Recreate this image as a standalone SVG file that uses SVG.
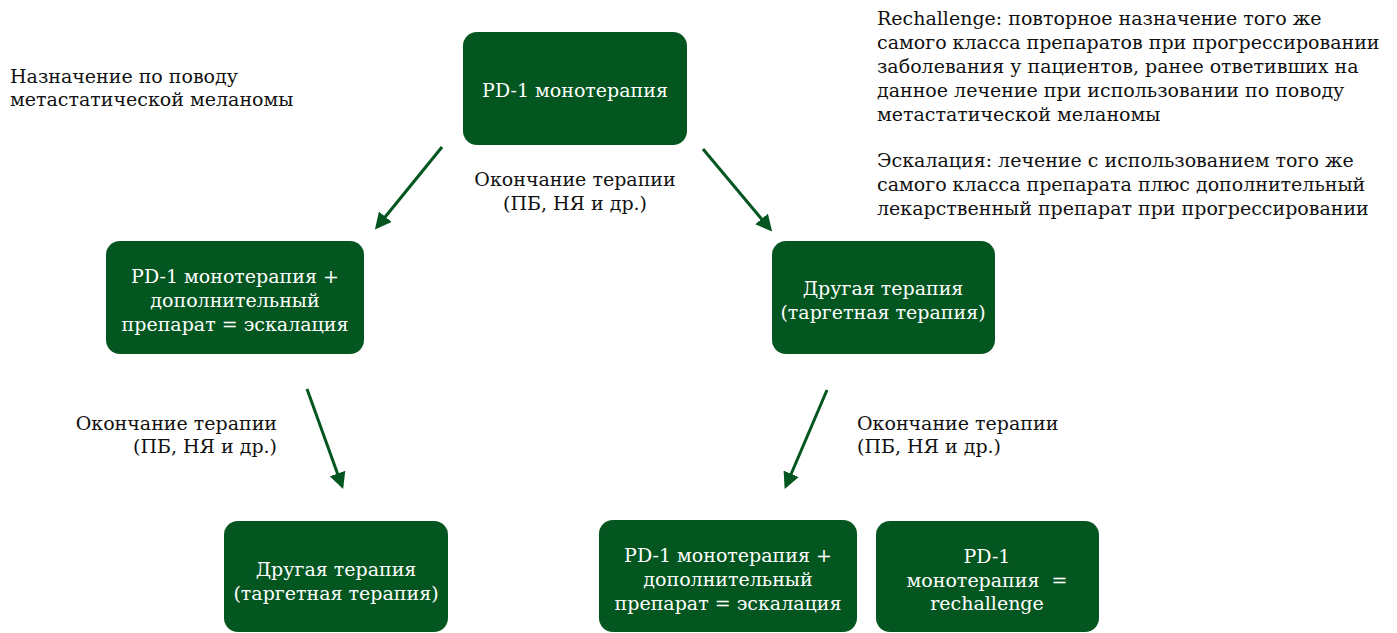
<svg xmlns="http://www.w3.org/2000/svg" width="1397" height="633" viewBox="0 0 1397 633">
<style>
  text { font-family: "DejaVu Serif", serif; font-size: 19px; }
  .box { fill: #03561f; }
  .bt { fill: #ffffff; text-anchor: middle; }
  .t { fill: #111111; }
  .conn { stroke: #03561f; stroke-width: 3; fill: none; marker-end: url(#ah); }
</style>
<defs>
  <marker id="ah" viewBox="0 0 10 10" refX="8" refY="5" markerWidth="5.5" markerHeight="5.5" orient="auto" markerUnits="strokeWidth">
    <path d="M0,0 L10,5 L0,10 z" fill="#03561f"/>
  </marker>
</defs>
<rect width="1397" height="633" fill="#ffffff"/>

<g id="note-left">
  <text class="t" x="10" y="83">Назначение по поводу</text>
  <text class="t" x="10" y="106">метастатической меланомы</text>
</g>

<g id="note-right">
  <text class="t" x="877" y="25">Rechallenge: повторное назначение того же</text>
  <text class="t" x="877" y="49">самого класса препаратов при прогрессировании</text>
  <text class="t" x="877" y="73">заболевания у пациентов, ранее ответивших на</text>
  <text class="t" x="877" y="97">данное лечение при использовании по поводу</text>
  <text class="t" x="877" y="121">метастатической меланомы</text>
  <text class="t" x="877" y="167">Эскалация: лечение с использованием того же</text>
  <text class="t" x="877" y="191">самого класса препарата плюс дополнительный</text>
  <text class="t" x="877" y="215">лекарственный препарат при прогрессировании</text>
</g>

<g id="connectors">
  <line class="conn" x1="442" y1="147" x2="377" y2="227"/>
  <line class="conn" x1="703" y1="149" x2="770" y2="229"/>
  <line class="conn" x1="307" y1="389" x2="342" y2="486"/>
  <line class="conn" x1="827" y1="390" x2="786" y2="486"/>
</g>

<g id="label-top">
  <text class="t" x="575" y="186" text-anchor="middle">Окончание терапии</text>
  <text class="t" x="575" y="210" text-anchor="middle">(ПБ, НЯ и др.)</text>
</g>
<g id="label-left">
  <text class="t" x="277" y="430" text-anchor="end">Окончание терапии</text>
  <text class="t" x="277" y="453" text-anchor="end">(ПБ, НЯ и др.)</text>
</g>
<g id="label-right">
  <text class="t" x="857" y="430">Окончание терапии</text>
  <text class="t" x="857" y="453">(ПБ, НЯ и др.)</text>
</g>

<g id="node-top">
  <rect class="box" x="463" y="32" width="224" height="113" rx="14"/>
  <text class="bt" x="575" y="97">PD-1 монотерапия</text>
</g>
<g id="node-left-mid">
  <rect class="box" x="106" y="241" width="258" height="113" rx="14"/>
  <text class="bt" x="235" y="283">PD-1 монотерапия +</text>
  <text class="bt" x="235" y="307">дополнительный</text>
  <text class="bt" x="235" y="331">препарат = эскалация</text>
</g>
<g id="node-right-mid">
  <rect class="box" x="772" y="241" width="223" height="113" rx="14"/>
  <text class="bt" x="883" y="295">Другая терапия</text>
  <text class="bt" x="883" y="319">(таргетная терапия)</text>
</g>
<g id="node-bottom-left">
  <rect class="box" x="224" y="521" width="224" height="111" rx="14"/>
  <text class="bt" x="336" y="576">Другая терапия</text>
  <text class="bt" x="336" y="600">(таргетная терапия)</text>
</g>
<g id="node-bottom-mid">
  <rect class="box" x="599" y="520" width="258" height="112" rx="14"/>
  <text class="bt" x="728" y="562">PD-1 монотерапия +</text>
  <text class="bt" x="728" y="586">дополнительный</text>
  <text class="bt" x="728" y="610">препарат = эскалация</text>
</g>
<g id="node-bottom-right">
  <rect class="box" x="876" y="521" width="223" height="111" rx="14"/>
  <text class="bt" x="987" y="563">PD-1</text>
  <text class="bt" x="987" y="587" xml:space="preserve">монотерапия  =</text>
  <text class="bt" x="987" y="610">rechallenge</text>
</g>
</svg>
